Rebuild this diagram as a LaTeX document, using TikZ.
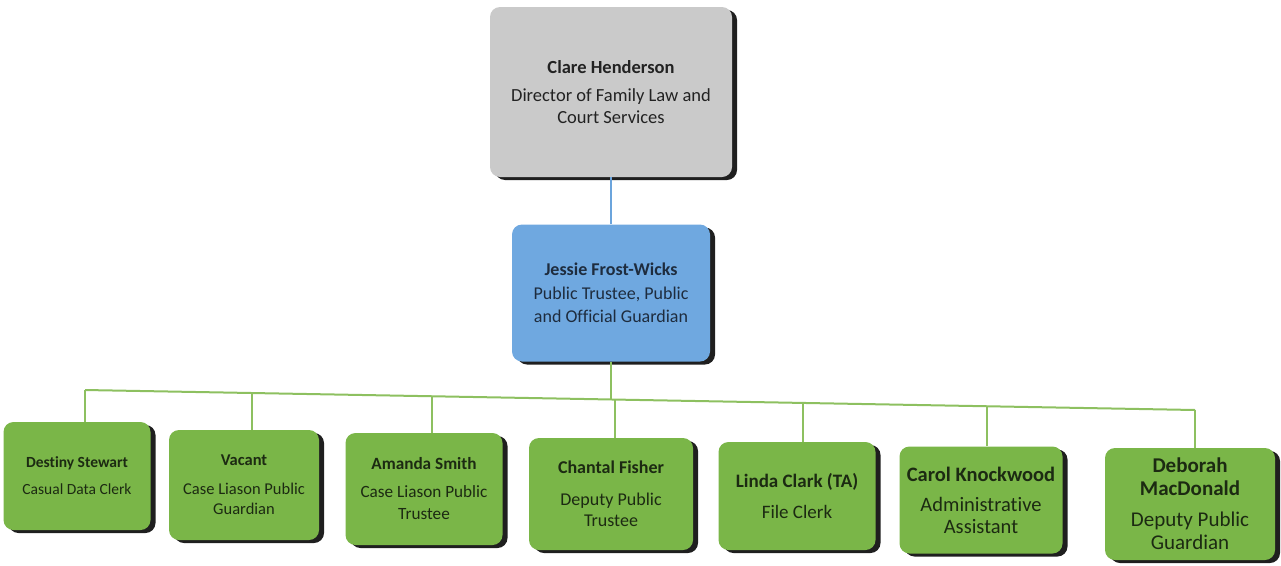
\documentclass[tikz,border=0pt]{standalone}
\usepackage{fontspec}
\setmainfont{Carlito}[Ligatures=NoCommon]
\usetikzlibrary{shadows}
\definecolor{boxgreen}{HTML}{7AB648}
\definecolor{boxgray}{HTML}{CACACA}
\definecolor{boxblue}{HTML}{6FA8E0}
\definecolor{linegreen}{HTML}{8DC060}
\definecolor{lineblue}{HTML}{6BA4DC}
\definecolor{txtgreen}{HTML}{1C2A12}
\definecolor{txtblue}{HTML}{1E2C3E}
\definecolor{txtgray}{HTML}{222222}
\tikzset{
  card/.style={rounded corners=10pt, align=center, inner sep=2pt,
    general shadow={fill=black!88, shadow xshift=5pt, shadow yshift=-3pt}},
  graycard/.style={card, fill=boxgray, text=txtgray},
  bluecard/.style={card, fill=boxblue, text=txtblue},
  greencard/.style={card, fill=boxgreen, text=txtgreen},
  gline/.style={draw=linegreen, line width=2pt},
  bline/.style={draw=lineblue, line width=2pt},
}
\begin{document}
\begin{tikzpicture}[x=1pt,y=-1pt]
\useasboundingbox (0,0) rectangle (1281,565);
\node[graycard, minimum width=242pt, minimum height=170pt, font=\fontsize{18.5}{21.5}\selectfont] (clare) at (611,92)
  {\textbf{Clare Henderson}\\[7pt]Director of Family Law and\\Court Services};
\node[bluecard, minimum width=198pt, minimum height=137pt, font=\fontsize{18}{23}\selectfont] (jessie) at (611,293)
  {\textbf{Jessie Frost-Wicks}\\[1pt]Public Trustee, Public\\and Official Guardian};

\node[greencard, minimum width=147pt, minimum height=108pt, font=\fontsize{15.5}{18}\selectfont] (c1) at (77,476)
  {\textbf{Destiny Stewart}\\[9pt]Casual Data Clerk};
\node[greencard, minimum width=150pt, minimum height=110pt, font=\fontsize{16.5}{20}\selectfont] (c2) at (244,485)
  {\textbf{Vacant}\\[9pt]Case Liason Public\\Guardian};
\node[greencard, minimum width=157pt, minimum height=112pt, font=\fontsize{17.2}{22}\selectfont] (c3) at (424,489)
  {\textbf{Amanda Smith}\\[6pt]Case Liason Public\\Trustee};
\node[greencard, minimum width=164pt, minimum height=112pt, font=\fontsize{18}{21}\selectfont] (c4) at (611,494)
  {\textbf{Chantal Fisher}\\[11pt]Deputy Public\\Trustee};
\node[greencard, minimum width=157pt, minimum height=108pt, font=\fontsize{19}{22}\selectfont] (c5) at (797,496)
  {\textbf{Linda Clark (TA)}\\[9pt]File Clerk};
\node[greencard, minimum width=163pt, minimum height=107pt, font=\fontsize{20.5}{22}\selectfont] (c6) at (981,500)
  {\textbf{Carol Knockwood}\\[8pt]Administrative\\Assistant};
\node[greencard, minimum width=170pt, minimum height=112pt, font=\fontsize{21}{23}\selectfont] (c7) at (1190,504)
  {\textbf{Deborah}\\\textbf{MacDonald}\\[8pt]Deputy Public\\Guardian};

\coordinate (b1) at (85,390);
\coordinate (b2) at (252,393);
\coordinate (b3) at (432,396.3);
\coordinate (bj) at (615,399.5);
\coordinate (b5) at (803,402.9);
\coordinate (b6) at (987,406.3);
\coordinate (b7) at (1195,410);

\path[bline] (clare.south) -- (jessie.north);
\path[gline] (b1) -- (b7);
\path[gline] (jessie.south) -- (jessie.south |- bj);
\path[gline] (b1) -- (b1 |- c1.north);
\path[gline] (b2) -- (b2 |- c2.north);
\path[gline] (b3) -- (b3 |- c3.north);
\path[gline] (bj) -- (bj |- c4.north);
\path[gline] (b5) -- (b5 |- c5.north);
\path[gline] (b6) -- (b6 |- c6.north);
\path[gline] (b7) -- (b7 |- c7.north);
\end{tikzpicture}
\end{document}
